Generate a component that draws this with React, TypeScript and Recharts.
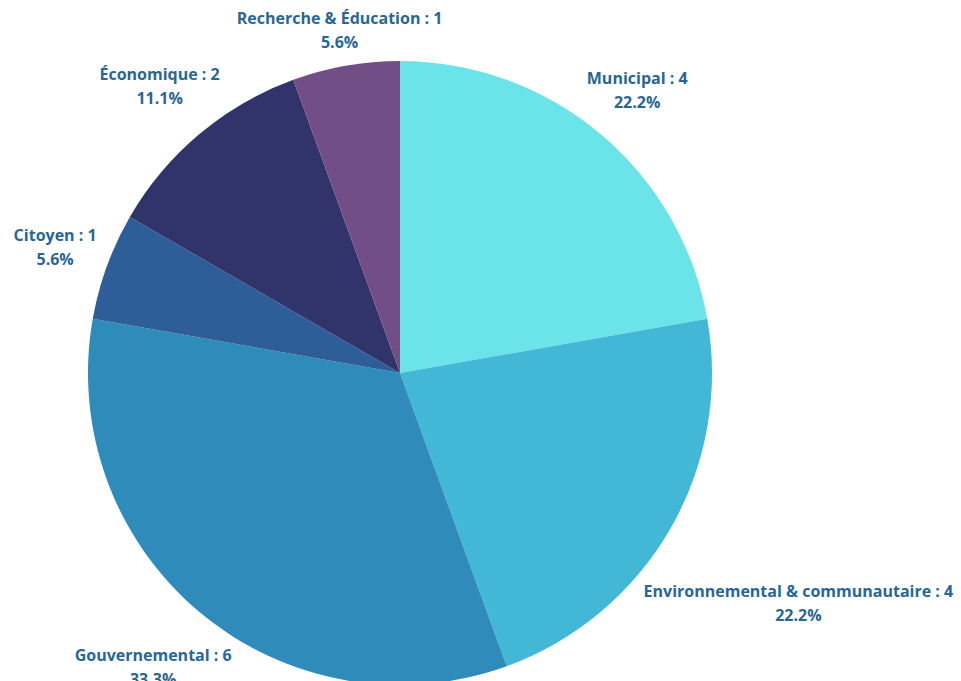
import React from 'react';
import { PieChart, Pie, Cell } from 'recharts';

const categories = [
  'Municipal',
  'Environnemental & communautaire',
  'Gouvernemental',
  'Citoyen',
  'Économique',
  'Recherche & Éducation',
];
const counts = [4, 4, 6, 1, 2, 1];
const colors = ['#6AE4E8', '#42B7D6', '#2E8BBA', '#2E5E98', '#30346A', '#714E86'];

const data = categories.map((name, i) => ({ name, value: counts[i] }));
const total = counts.reduce((a, b) => a + b, 0);

const RADIAN = Math.PI / 180;
const FONT = 'bold 16px "Open Sans"';
const LABEL_COLOR = '#2A6694';

let ctx: CanvasRenderingContext2D | null = null;
const measure = (s: string) => {
  if (!ctx) ctx = document.createElement('canvas').getContext('2d');
  if (!ctx) return s.length * 9.5;
  ctx.font = FONT;
  return ctx.measureText(s).width;
};

// push each label outward along its mid angle until its box clears the pie
const renderLabel = (props: any) => {
  const { cx, cy, midAngle, outerRadius, name, value } = props;
  const line1 = `${name} : ${value}`;
  const line2 = `${((value / total) * 100).toFixed(1)}%`;
  const hw = Math.max(measure(line1), measure(line2)) / 2;
  const hh = 22;
  const ux = Math.cos(-midAngle * RADIAN);
  const uy = Math.sin(-midAngle * RADIAN);
  let r = outerRadius;
  for (; r < outerRadius + 300; r += 1) {
    const bx = cx + r * ux;
    const by = cy + r * uy;
    const dx = Math.max(Math.abs(cx - bx) - hw, 0);
    const dy = Math.max(Math.abs(cy - by) - hh, 0);
    if (Math.sqrt(dx * dx + dy * dy) >= outerRadius + 8) break;
  }
  const x = cx + r * ux;
  const y = cy + r * uy;
  return (
    <text
      x={x}
      y={y}
      textAnchor="middle"
      fill={LABEL_COLOR}
      style={{ font: FONT }}
    >
      <tspan x={x} y={y - 6}>{line1}</tspan>
      <tspan x={x} y={y + 18}>{line2}</tspan>
    </text>
  );
};

export default function App() {
  return (
    <div style={{ position: 'absolute', left: 0, top: 0, width: 961, height: 681, background: '#fff' }}>
      <PieChart width={961} height={681} margin={{ top: 0, right: 0, bottom: 0, left: 0 }}>
        <Pie
          data={data}
          dataKey="value"
          nameKey="name"
          cx={400}
          cy={373}
          outerRadius={312}
          startAngle={90}
          endAngle={-270}
          stroke="none"
          label={renderLabel}
          labelLine={false}
          isAnimationActive={false}
        >
          {data.map((d, i) => (
            <Cell key={d.name} fill={colors[i]} />
          ))}
        </Pie>
      </PieChart>
    </div>
  );
}
